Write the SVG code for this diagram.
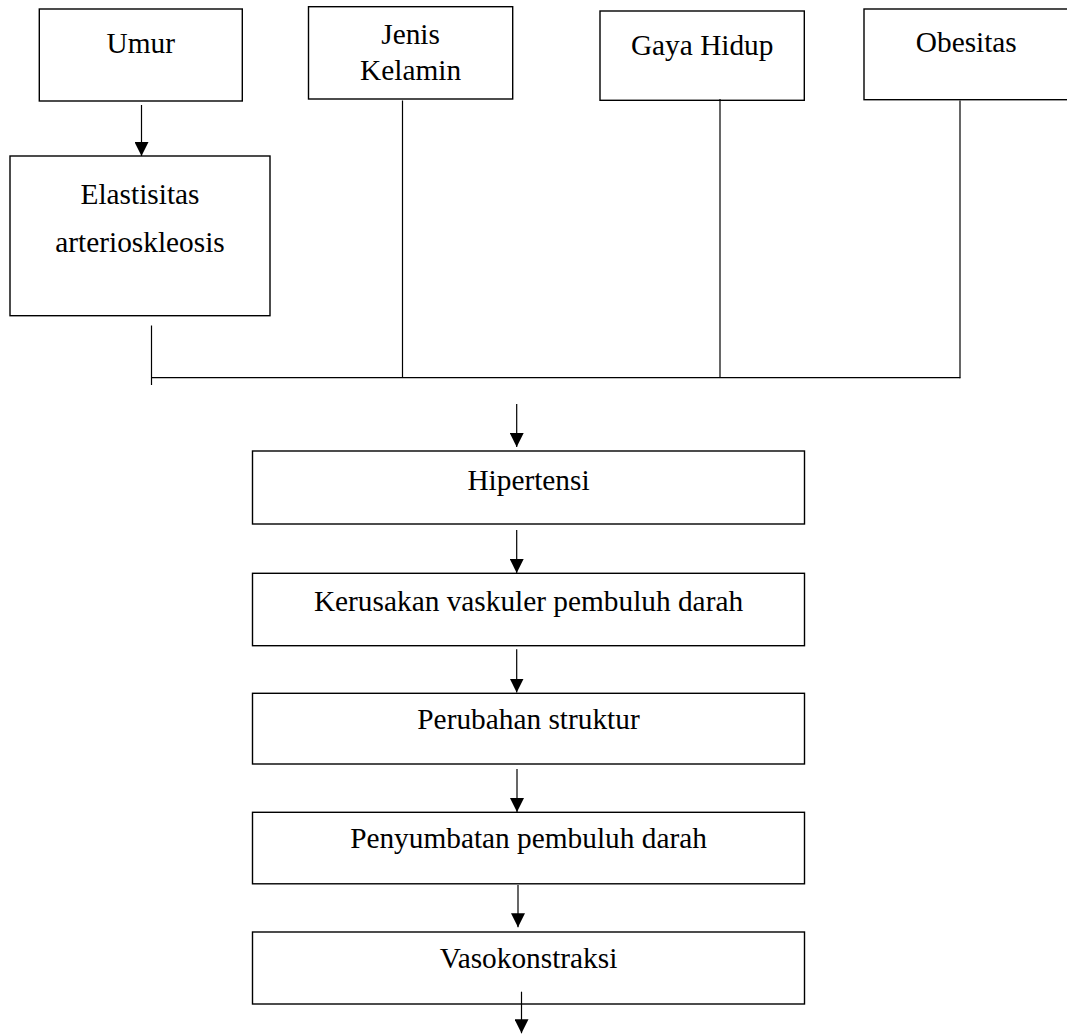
<svg xmlns="http://www.w3.org/2000/svg" width="1067" height="1035" viewBox="0 0 1067 1035">
  <style>
    .box { fill: #ffffff; stroke: #000000; stroke-width: 1.4; }
    .lbl { font-family: "Liberation Serif", "Times New Roman", serif; font-size: 29.33px; fill: #000000; text-anchor: middle; }
    .ln { stroke: #000000; stroke-width: 1.2; fill: none; }
    .arr { stroke: #000000; stroke-width: 1.2; fill: none; marker-end: url(#ah); }
  </style>
  <defs>
    <marker id="ah" markerUnits="userSpaceOnUse" markerWidth="14" markerHeight="14" refX="14" refY="7" orient="auto">
      <path d="M0,0 L14,7 L0,14 Z" fill="#000000"/>
    </marker>
  </defs>
  <rect width="1067" height="1035" fill="#ffffff"/>

  <g id="umur">
    <rect class="box" x="39.3" y="9" width="203" height="92"/>
    <text class="lbl" x="140.8" y="53.3">Umur</text>
  </g>
  <g id="jenis-kelamin">
    <rect class="box" x="308.5" y="6.7" width="204.2" height="92.3"/>
    <text class="lbl" x="410.6" y="44">Jenis</text>
    <text class="lbl" x="410.6" y="80">Kelamin</text>
  </g>
  <g id="gaya-hidup">
    <rect class="box" x="600" y="11" width="204.3" height="89.3"/>
    <text class="lbl" x="702.2" y="55">Gaya Hidup</text>
  </g>
  <g id="obesitas">
    <rect class="box" x="864" y="9" width="210" height="90.7"/>
    <text class="lbl" x="966.3" y="52.3">Obesitas</text>
  </g>
  <g id="elastisitas">
    <rect class="box" x="10" y="156" width="260" height="159.7"/>
    <text class="lbl" x="140" y="204">Elastisitas</text>
    <text class="lbl" x="140" y="252">arterioskleosis</text>
  </g>
  <g id="hipertensi">
    <rect class="box" x="252.5" y="451" width="552" height="73"/>
    <text class="lbl" x="528.5" y="489.5">Hipertensi</text>
  </g>
  <g id="kerusakan">
    <rect class="box" x="252.5" y="573.3" width="552" height="72.4"/>
    <text class="lbl" x="528.5" y="610.5">Kerusakan vaskuler pembuluh darah</text>
  </g>
  <g id="perubahan">
    <rect class="box" x="252.5" y="693.3" width="552" height="70.7"/>
    <text class="lbl" x="528.5" y="729.3">Perubahan struktur</text>
  </g>
  <g id="penyumbatan">
    <rect class="box" x="252.5" y="812.3" width="552" height="71.5"/>
    <text class="lbl" x="528.5" y="848">Penyumbatan pembuluh darah</text>
  </g>
  <g id="vasokonstraksi">
    <rect class="box" x="252.5" y="932" width="552" height="72"/>
    <text class="lbl" x="528.5" y="968">Vasokonstraksi</text>
  </g>

  <g id="connectors">
    <line class="arr" x1="141.5" y1="105" x2="141.5" y2="156"/>
    <line class="ln" x1="151.5" y1="325.5" x2="151.5" y2="385"/>
    <line class="ln" x1="151.5" y1="377.7" x2="960.3" y2="377.7"/>
    <line class="ln" x1="402.5" y1="100.5" x2="402.5" y2="377.7"/>
    <line class="ln" x1="720" y1="99" x2="720" y2="377.7"/>
    <line class="ln" x1="960" y1="100.5" x2="960" y2="378.3"/>
    <line class="arr" x1="516.7" y1="404" x2="516.7" y2="447"/>
    <line class="arr" x1="516.7" y1="530" x2="516.7" y2="573"/>
    <line class="arr" x1="516.7" y1="649.3" x2="516.7" y2="692.5"/>
    <line class="arr" x1="517" y1="769" x2="517" y2="812"/>
    <line class="arr" x1="518" y1="885" x2="518" y2="927.3"/>
    <line class="arr" x1="521.5" y1="991.7" x2="521.5" y2="1033.3"/>
  </g>
</svg>
